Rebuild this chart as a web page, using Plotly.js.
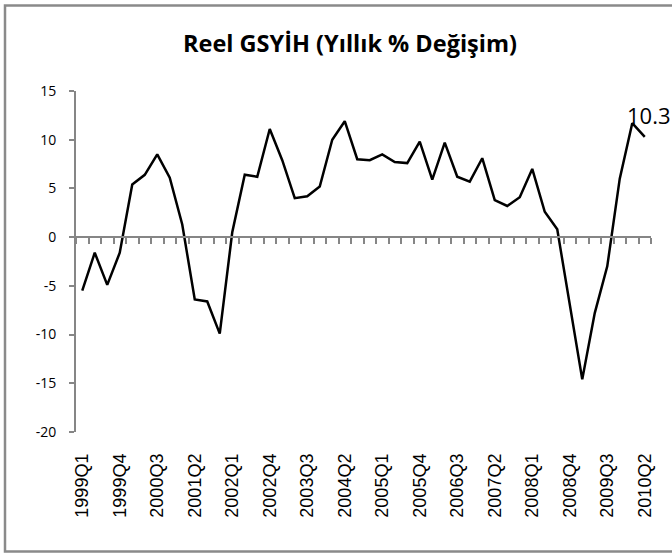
<!DOCTYPE html>
<html>
<head>
<meta charset="utf-8">
<script src="https://cdn.plot.ly/plotly-3.0.1.min.js"></script>
<style>
  html, body { margin: 0; padding: 0; background: #ffffff; }
  #chart { width: 672px; height: 554px; }
</style>
</head>
<body>
<div id="chart"></div>
<script>
// Quarterly periods
const quarters = [
  "1999Q1","1999Q2","1999Q3","1999Q4",
  "2000Q1","2000Q2","2000Q3","2000Q4",
  "2001Q1","2001Q2","2001Q3","2001Q4",
  "2002Q1","2002Q2","2002Q3","2002Q4",
  "2003Q1","2003Q2","2003Q3","2003Q4",
  "2004Q1","2004Q2","2004Q3","2004Q4",
  "2005Q1","2005Q2","2005Q3","2005Q4",
  "2006Q1","2006Q2","2006Q3","2006Q4",
  "2007Q1","2007Q2","2007Q3","2007Q4",
  "2008Q1","2008Q2","2008Q3","2008Q4",
  "2009Q1","2009Q2","2009Q3","2009Q4",
  "2010Q1","2010Q2"
];

const gdpGrowth = [
  -5.5, -1.6, -4.9, -1.6,
   5.4,  6.4,  8.5,  6.1,
   1.3, -6.4, -6.6, -9.9,
   0.5,  6.4,  6.2, 11.1,
   7.9,  4.0,  4.2,  5.2,
  10.0, 11.9,  8.0,  7.9,
   8.5,  7.7,  7.6,  9.8,
   5.9,  9.7,  6.2,  5.7,
   8.1,  3.8,  3.2,  4.1,
   7.0,  2.6,  0.8, -6.9,
 -14.6, -7.8, -3.0,  6.0,
  11.7, 10.3
];

// Labelled ticks on the category axis
const tickLabels = [
  "1999Q1","1999Q4","2000Q3","2001Q2","2002Q1","2002Q4","2003Q3","2004Q2",
  "2005Q1","2005Q4","2006Q3","2007Q2","2008Q1","2008Q4","2009Q3","2010Q2"
];

const yTicks = [-20, -15, -10, -5, 0, 5, 10, 15];
const titleText = "Reel GSYİH (Yıllık % Değişim)";

const axisGray = "#868686";
const n = quarters.length;
const boundaries = quarters.map((_, i) => i - 0.5).concat([n - 0.5]);
const lastIdx = n - 1;

const traces = [
  {
    type: "scatter",
    mode: "lines",
    x: quarters,
    y: gdpGrowth,
    line: { color: "#000000", width: 2.5 },
    hoverinfo: "x+y",
    showlegend: false
  },
  {
    type: "scatter",
    mode: "lines",
    x: [boundaries[0], boundaries[boundaries.length - 1]],
    y: [null, null],
    xaxis: "x2",
    yaxis: "y",
    showlegend: false,
    hoverinfo: "skip"
  }
];

const layout = {
  width: 672,
  height: 554,
  margin: { l: 76, r: 21, t: 91, b: 122, pad: 0 },
  paper_bgcolor: "#ffffff",
  plot_bgcolor: "rgba(0,0,0,0)",
  showlegend: false,
  title: {
    text: "<b>" + titleText + "</b>",
    font: { family: "Open Sans, sans-serif", size: 23.5, color: "#000000" },
    xref: "paper",
    x: (350 - 76) / 575,
    xanchor: "center",
    yref: "container",
    y: 1 - 44 / 554,
    yanchor: "middle"
  },
  xaxis: {
    type: "category",
    range: [-0.5, n - 0.5],
    tickmode: "array",
    tickvals: tickLabels,
    ticktext: tickLabels,
    tickangle: -90,
    tickfont: { family: "Liberation Sans, Arial, sans-serif", size: 18, color: "#000000" },
    ticks: "",
    ticklabelstandoff: 17,
    showline: false,
    showgrid: false,
    zeroline: false,
    fixedrange: true
  },
  xaxis2: {
    type: "linear",
    overlaying: "x",
    anchor: "free",
    position: 20 / 35,
    range: [-0.5, n - 0.5],
    tickmode: "array",
    tickvals: boundaries,
    ticks: "outside",
    ticklen: 6,
    tickwidth: 2,
    tickcolor: axisGray,
    showticklabels: false,
    showline: true,
    linecolor: axisGray,
    linewidth: 2,
    showgrid: false,
    zeroline: false,
    fixedrange: true
  },
  yaxis: {
    range: [-20, 15],
    tickmode: "array",
    tickvals: yTicks,
    ticktext: yTicks.map(String),
    ticks: "outside",
    ticklen: 5,
    tickwidth: 2,
    tickcolor: axisGray,
    showline: true,
    linecolor: axisGray,
    linewidth: 2,
    showgrid: false,
    zeroline: false,
    tickfont: { family: "Open Sans, sans-serif", size: 14, color: "#000000" },
    ticklabelstandoff: 10,
    fixedrange: true
  },
  annotations: [
    {
      x: quarters[lastIdx],
      y: gdpGrowth[lastIdx],
      xref: "x",
      yref: "y",
      text: gdpGrowth[lastIdx].toFixed(1),
      showarrow: false,
      xanchor: "center",
      yanchor: "middle",
      xshift: 4,
      yshift: 22,
      font: { family: "Open Sans, sans-serif", size: 22, color: "#000000" }
    }
  ],
  shapes: [
    {
      type: "rect",
      xref: "paper",
      yref: "paper",
      x0: (5 - 76) / 575,
      x1: (690 - 76) / 575,
      y0: (432 - 551.5) / 341,
      y1: (432 - 5.5) / 341,
      line: { color: "#8a8a8a", width: 2.5 },
      fillcolor: "rgba(0,0,0,0)",
      layer: "below"
    }
  ]
};

Plotly.newPlot("chart", traces, layout, { displayModeBar: false, staticPlot: true });
</script>
</body>
</html>
